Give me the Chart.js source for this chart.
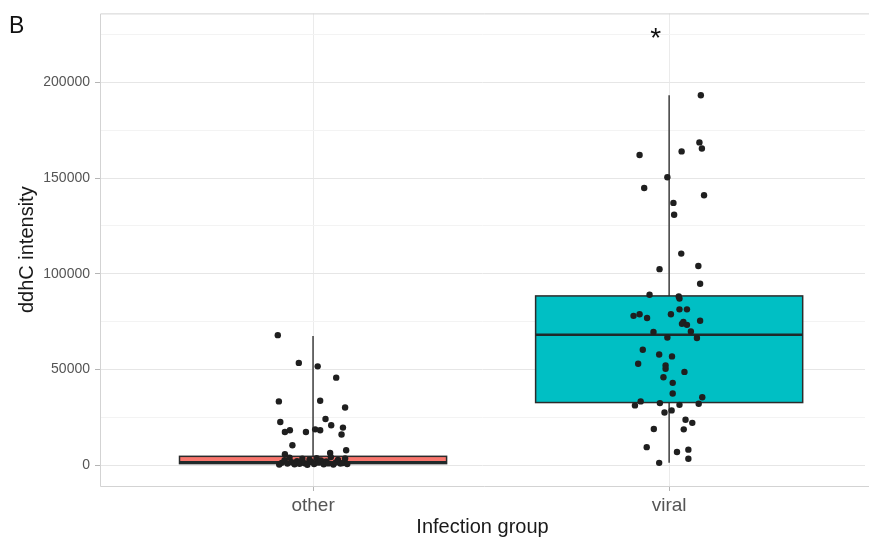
<!DOCTYPE html>
<html>
<head>
<meta charset="utf-8">
<script src="https://cdn.jsdelivr.net/npm/chart.js@4"></script>
<style>
  body { margin: 0; background: #fff; }
  #wrap { position: relative; width: 869px; height: 539px; }
  #tag { position: absolute; left: 9px; top: 12px; font: 23px "Liberation Sans", Arial, sans-serif; color: #111; }
</style>
</head>
<body>
<div id="wrap">
  <canvas id="myChart" width="869" height="539"></canvas>
  <div id="tag">B</div>
</div>
<script>
// groups + box stats
const groups = ['other', 'viral']
const boxColors = ['#F8766D', '#00BFC4']
const whiskerLow = [0, 1200]
const q1 = [800, 32700]
const median = [1500, 68100]
const q3 = [4600, 88400]
const whiskerHigh = [67500, 193200]

// jittered points (offset from group centre, value)
const otherJitter = [-0.099, -0.04, 0.013, 0.065, -0.096, 0.02, 0.09, -0.092, 0.035, 0.051, 0.084, 0.08,
  -0.079, -0.065, -0.02, 0.006, 0.02, -0.058, 0.093, 0.048, -0.079,
  -0.095, -0.088, -0.08, -0.072, -0.066, -0.06, -0.052, -0.045, -0.038, -0.03, -0.024, -0.016, -0.01,
  -0.004, 0.003, 0.01, 0.016, 0.022, 0.03, 0.037, 0.043, 0.05, 0.057, 0.064, 0.07, 0.077, 0.084, 0.09, 0.096]
const otherValues = [67900, 53400, 51600, 45700, 33300, 33600, 30100, 22500, 24100, 20800, 19600, 16000,
  17300, 18200, 17300, 18700, 18200, 10400, 7800, 6400, 5700,
  300, 1200, 2600, 800, 3900, 1500, 400, 2100, 700, 3300, 1000, 200, 2800,
  1700, 600, 3600, 1300, 2400, 500, 1900, 900, 4200, 300, 1400, 2700, 800, 1100, 3500, 600]

const viralJitter = [0.089, 0.085, 0.092, 0.035, -0.083, -0.005, -0.07, 0.098, 0.012,
  0.014, 0.034, -0.027, 0.082, 0.087, -0.055, 0.027, 0.029, -0.1, -0.083, -0.062, 0.005, 0.029, 0.05,
  0.087, 0.04, 0.036, 0.05, -0.044, 0.061, -0.005, 0.078, -0.074, -0.028, 0.008, -0.087, -0.01, -0.01,
  0.043, -0.016, 0.01, 0.01, 0.093, -0.08, -0.096, -0.026, 0.029, 0.083, -0.013, 0.007, 0.046, 0.065,
  -0.043, 0.041, -0.063, 0.022, 0.054, 0.054, -0.028]
const viralValues = [193200, 168600, 165400, 163900, 162000, 150400, 144800, 141000, 137000,
  130800, 110500, 102400, 104000, 94800, 89000, 88100, 87000, 78000, 78800, 76900, 78800, 81400, 81400,
  75400, 74800, 73800, 73300, 69600, 69800, 66700, 66400, 60300, 57800, 56800, 53000, 52100, 50300,
  48700, 45900, 43000, 37400, 35500, 33300, 31200, 32400, 31500, 32100, 27500, 28600, 23700, 22100,
  18900, 18700, 9400, 6900, 8100, 3300, 1200]

const boxWidth = 0.75
const starX = 1.962
const starY = 225000
const yTicks = [0, 25000, 50000, 75000, 100000, 125000, 150000, 175000, 200000, 225000]

const otherPoints = otherValues.map((v, i) => ({ x: 1 + otherJitter[i], y: v }))
const viralPoints = viralValues.map((v, i) => ({ x: 2 + viralJitter[i], y: v }))

const font = '"Liberation Sans", Arial, sans-serif'

const boxPlugin = {
  id: 'boxes',
  beforeDatasetsDraw(chart) {
    const { ctx, chartArea: a, scales: { x, y } } = chart
    ctx.save()
    // panel border, right side runs off the picture
    ctx.strokeStyle = '#d3d3d3'
    ctx.lineWidth = 1
    ctx.beginPath()
    ctx.moveTo(chart.width, a.top + 0.5)
    ctx.lineTo(a.left + 0.5, a.top + 0.5)
    ctx.lineTo(a.left + 0.5, a.bottom + 0.5)
    ctx.lineTo(chart.width, a.bottom + 0.5)
    ctx.stroke()

    groups.forEach((g, i) => {
      const cx = x.getPixelForValue(i + 1)
      const left = x.getPixelForValue(i + 1 - boxWidth / 2)
      const right = x.getPixelForValue(i + 1 + boxWidth / 2)
      ctx.strokeStyle = '#4a4a4a'
      ctx.lineWidth = 1.6
      ctx.beginPath()
      ctx.moveTo(cx, y.getPixelForValue(whiskerHigh[i]))
      ctx.lineTo(cx, y.getPixelForValue(q3[i]))
      ctx.moveTo(cx, y.getPixelForValue(q1[i]))
      ctx.lineTo(cx, y.getPixelForValue(whiskerLow[i]))
      ctx.stroke()

      const top = y.getPixelForValue(q3[i])
      const bot = y.getPixelForValue(q1[i])
      ctx.fillStyle = boxColors[i]
      ctx.fillRect(left, top, right - left, bot - top)
      ctx.strokeStyle = '#2b2b2b'
      ctx.lineWidth = 1.5
      ctx.strokeRect(left, top, right - left, bot - top)

      const m = y.getPixelForValue(median[i])
      ctx.lineWidth = 2.6
      ctx.strokeStyle = '#1e2a2a'
      ctx.beginPath()
      ctx.moveTo(left, m)
      ctx.lineTo(right, m)
      ctx.stroke()
    })
    ctx.restore()
  },
  afterDraw(chart) {
    const { ctx, scales: { x, y } } = chart
    ctx.save()
    ctx.fillStyle = '#111'
    ctx.font = '28px ' + font
    ctx.textAlign = 'center'
    ctx.textBaseline = 'middle'
    ctx.fillText('*', x.getPixelForValue(starX), y.getPixelForValue(starY) + 5)
    ctx.restore()
  }
}

const ctx = document.getElementById('myChart')

const myChart = new Chart(ctx, {
  type: 'scatter',
  data: {
    datasets: [
      { label: 'other', data: otherPoints, backgroundColor: '#1f1f1f', borderWidth: 0, pointRadius: 3.2 },
      { label: 'viral', data: viralPoints, backgroundColor: '#1f1f1f', borderWidth: 0, pointRadius: 3.2 }
    ]
  },
  options: {
    responsive: false,
    animation: false,
    layout: { padding: { top: 11, right: 0, left: 0, bottom: 0 } },
    plugins: { legend: { display: false }, tooltip: { enabled: false } },
    scales: {
      x: {
        type: 'linear',
        min: 0.4017,
        max: 2.55,
        afterBuildTicks: s => { s.ticks = [{ value: 1 }, { value: 2 }] },
        afterFit: s => { s.height = 53 },
        border: { display: false },
        grid: { color: '#ebebeb', tickColor: '#b5b5b5', tickLength: 5, lineWidth: 1 },
        ticks: {
          padding: 3,
          color: '#555',
          font: { family: font, size: 19 },
          callback: v => groups[v - 1]
        },
        title: {
          display: true,
          text: 'Infection group',
          color: '#1a1a1a',
          font: { family: font, size: 20 },
          padding: { top: 0, bottom: 0 }
        }
      },
      y: {
        min: -10900,
        max: 236000,
        afterBuildTicks: s => { s.ticks = yTicks.map(v => ({ value: v })) },
        afterFit: s => { s.width = 100 },
        border: { display: false },
        grid: {
          color: c => (c.tick && c.tick.value % 50000 === 0) ? '#e6e6e6' : '#f3f3f3',
          tickColor: c => (c.tick && c.tick.value % 50000 === 0) ? '#b5b5b5' : 'rgba(0,0,0,0)',
          tickLength: 5
        },
        ticks: {
          padding: 5,
          color: '#555',
          font: { family: font, size: 14 },
          callback: v => (v % 50000 === 0 ? String(v) : '')
        },
        title: {
          display: true,
          text: 'ddhC intensity',
          color: '#1a1a1a',
          font: { family: font, size: 20 },
          padding: { top: 15, bottom: 0 }
        }
      }
    }
  },
  plugins: [boxPlugin]
})
</script>
</body>
</html>
